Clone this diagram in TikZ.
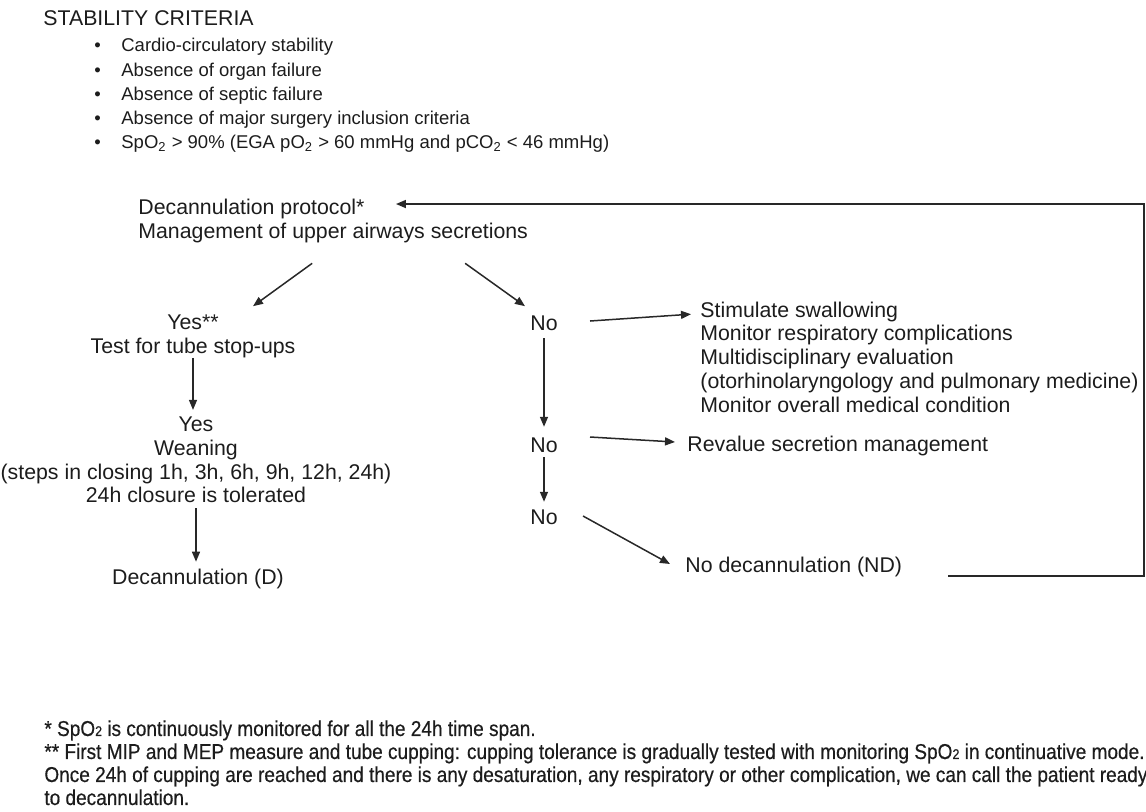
\documentclass[tikz,border=0pt]{standalone}
\usepackage{fontspec}
\setmainfont{Liberation Sans}
\newfontfamily\notefont[FakeStretch=0.885,FakeBold=0.45]{Liberation Sans}
\usetikzlibrary{arrows.meta,positioning,calc}
\definecolor{INK}{RGB}{28,28,28}
\definecolor{WIRE}{RGB}{40,40,40}
\newcommand{\smalltwo}{{\fontsize{7}{7}\selectfont 2}}

\begin{document}
\begin{tikzpicture}[x=0.5pt,y=-0.5pt,
    txt/.style={inner sep=0pt, text=INK, font=\fontsize{10.65}{11.9}\selectfont},
    lst/.style={inner sep=0pt, text=INK, align=left, font=\fontsize{9.25}{12.1}\selectfont},
    note/.style={inner sep=0pt, text=INK, align=left, font=\notefont\fontsize{10.75}{11.5}\selectfont},
    arr/.style={-{Triangle[length=5pt,width=4pt]}, WIRE, line width=0.75pt,
      shorten <=2.5pt, shorten >=4pt},
    wire/.style={-{Triangle[length=5pt,width=4pt]}, WIRE, line width=0.85pt}]
  \useasboundingbox (0,0) rectangle (1146,811);
  \clip (0,0) rectangle (1146,811);

  % Stability criteria
  \node[txt, anchor=west] (crit) at (43,18) {STABILITY CRITERIA};
  \node[lst, anchor=north west] (critlist) at (94,38) {%
    \makebox[13.5pt][l]{\textbullet}Cardio-circulatory stability\\
    \makebox[13.5pt][l]{\textbullet}Absence of organ failure\\
    \makebox[13.5pt][l]{\textbullet}Absence of septic failure\\
    \makebox[13.5pt][l]{\textbullet}Absence of major surgery inclusion criteria\\
    \makebox[13.5pt][l]{\textbullet}SpO\textsubscript{2} > 90\% (EGA pO\textsubscript{2} > 60 mmHg and pCO\textsubscript{2} < 46 mmHg)};

  % Protocol
  \node[txt, anchor=west] (proto1) at (138,209) {Decannulation protocol*};
  \node[txt, anchor=west] (proto2) at (138,233) {Management of upper airways secretions};

  % Yes branch
  \node[txt, align=center] (yes1) at (193,336) {Yes**\\Test for tube stop-ups};
  \node[txt, align=center] (yes2) at (196,460) {Yes\\Weaning\\(steps in closing 1h, 3h, 6h, 9h, 12h, 24h)\\24h closure is tolerated};
  \node[txt] (dec) at (198,579) {Decannulation (D)};

  % No branch
  \node[txt] (no1) at (544,323) {No};
  \node[txt] (no2) at (544,445) {No};
  \node[txt] (no3) at (544,517) {No};
  \node[txt, anchor=west, align=left] (stim) at (700,357) {Stimulate swallowing\\Monitor respiratory complications\\Multidisciplinary evaluation\\(otorhinolaryngology and pulmonary medicine)\\Monitor overall medical condition};
  \node[txt, anchor=west] (reval) at (687,446) {Revalue secretion management};
  \node[txt, anchor=west] (nd) at (685,567) {No decannulation (ND)};

  % Arrows
  \draw[arr, shorten <=0pt, shorten >=0pt] ($(proto2.south)+(-21,20)$) -- ($(yes1.north)+(60,-8)$);
  \draw[arr, shorten <=0pt, shorten >=0pt] ($(proto2.south)+(132,20)$) -- ($(no1.north)+(-19,-9)$);
  \draw[arr, shorten <=0pt, shorten >=3.3pt] (yes1.south) -- (yes1.south |- yes2.north);
  \draw[arr, shorten <=2.3pt, shorten >=3.5pt] (yes2.south) -- (yes2.south |- dec.north);
  \draw[arr, shorten <=3.7pt, shorten >=5.2pt] (no1) -- (no2);
  \draw[arr, shorten <=2.2pt, shorten >=3.7pt] (no2) -- (no3);
  \draw[arr, shorten <=0pt, shorten >=0pt] ($(no1.east)+(32,-2)$) -- ($(stim.north west)+(-9,13)$);
  \draw[arr, shorten <=0pt, shorten >=0pt] ($(no2.east)+(32,-8)$) -- ($(reval.west)+(-12,-4)$);
  \draw[arr, shorten <=0pt, shorten >=0pt] ($(no3.east)+(25,-1)$) -- ($(nd.west)+(-15,-3)$);

  % Back to protocol
  \coordinate (turn) at (1144,204);
  \coordinate (tip) at ($(proto1.east)+(31,0)$);
  \draw[wire] ($(nd.east)+(46,9)$) -| (turn) -- (tip |- turn);

  % Notes
  \node[note, anchor=north west] (notes) at (44,720) {%
    * SpO\smalltwo{} is continuously monitored for all the 24h time span.\\
    ** First MIP and MEP measure and tube cupping: cupping tolerance is gradually tested with monitoring SpO\smalltwo{} in continuative mode.\\
    Once 24h of cupping are reached and there is any desaturation, any respiratory or other complication, we can call the patient ready\\
    to decannulation.};
\end{tikzpicture}
\end{document}
